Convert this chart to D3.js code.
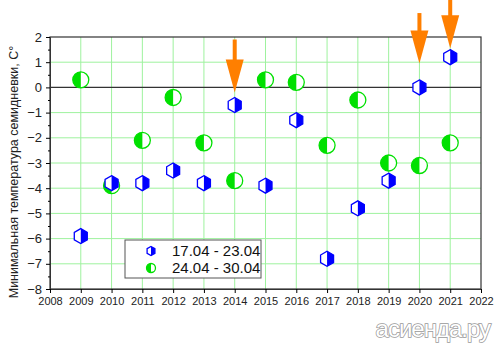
<!DOCTYPE html>
<html>
<head>
<meta charset="utf-8">
<script src="https://cdn.jsdelivr.net/npm/d3@7"></script>
<style>
body { margin: 0; background: #fff; }
svg { font-family: Arial, "Liberation Sans", sans-serif; }
</style>
</head>
<body>
<svg width="500" height="352"></svg>
<script>
var years = [2009, 2010, 2011, 2012, 2013, 2014, 2015, 2016, 2017, 2018, 2019, 2020, 2021];
var week1 = [-5.9, -3.8, -3.8, -3.3, -3.8, -0.7, -3.9, -1.3, -6.8, -4.8, -3.7, 0.0, 1.2];
var week2 = [0.3, -3.9, -2.1, -0.4, -2.2, -3.7, 0.3, 0.2, -2.3, -0.5, -3.0, -3.1, -2.2];
var seriesNames = ["17.04 - 23.04", "24.04 - 30.04"];
var xTicks = d3.range(2008, 2023);
var yTicks = d3.range(-8, 3);
var arrowYears = [2014, 2020, 2021];
var arrowTop = [1.9, 2.95, 3.5];
var arrowTip = [-0.2, 0.95, 1.55];

var svg = d3.select("svg"),
    pLeft = 50, pRight = 481, pTop = 37, pBottom = 289;

var x = d3.scaleLinear().domain([2008, 2022]).range([pLeft, pRight]);
var y = d3.scaleLinear().domain([-8, 2]).range([pBottom, pTop]);

var grid = svg.append("g");
grid.selectAll(".vg").data(xTicks.slice(1, -1)).enter().append("line")
    .attr("x1", d => x(d)).attr("x2", d => x(d))
    .attr("y1", pTop).attr("y2", pBottom)
    .attr("stroke", "#9ef29e").attr("stroke-width", 1);
grid.selectAll(".hg").data(yTicks.slice(1, -1)).enter().append("line")
    .attr("x1", pLeft).attr("x2", pRight)
    .attr("y1", d => y(d)).attr("y2", d => y(d))
    .attr("stroke", d => d === 0 ? "#333" : "#9ef29e")
    .attr("stroke-width", d => d === 0 ? 1.2 : 1);

svg.append("rect")
    .attr("x", pLeft).attr("y", pTop)
    .attr("width", pRight - pLeft).attr("height", pBottom - pTop)
    .attr("fill", "none").attr("stroke", "#333").attr("stroke-width", 1.2);

var yAxis = svg.append("g")
    .attr("transform", "translate(" + pLeft + ",0)")
    .call(d3.axisLeft(y).tickValues(yTicks).tickSize(4).tickPadding(4).tickFormat(d3.format("d")));
yAxis.selectAll(".tick text").attr("font-size", 13).attr("fill", "#222");
svg.append("g")
    .attr("transform", "translate(" + pLeft + ",0)")
    .call(d3.axisLeft(y).tickValues(d3.range(-7.5, 2, 1)).tickSize(2).tickFormat(""))
    .select(".domain").remove();

var xAxis = svg.append("g")
    .attr("transform", "translate(0," + pBottom + ")")
    .call(d3.axisBottom(x).tickValues(xTicks).tickSize(4).tickPadding(4).tickFormat(d3.format("d")));
xAxis.selectAll(".tick text").attr("font-size", 11).attr("fill", "#222");
svg.selectAll(".domain").attr("stroke", "#333");

svg.append("text")
    .attr("transform", "translate(18,172) rotate(-90)")
    .attr("text-anchor", "middle")
    .attr("font-size", 12.5).attr("fill", "#222")
    .text("Минимальная температура семидневки, С°");

// markers
function hexPath(r) {
    var pts = d3.range(6).map(function(i) {
        var a = Math.PI / 3 * i - Math.PI / 2;
        return [r * Math.cos(a), r * Math.sin(a)];
    });
    return "M" + pts.join("L") + "Z";
}
function hexRightHalf(r) {
    var h = r * Math.sqrt(3) / 2;
    return "M0," + (-r) + "L" + h + "," + (-r / 2) + "L" + h + "," + (r / 2) + "L0," + r + "Z";
}
function circleMarker(g, r) {
    g.append("circle").attr("r", r).attr("fill", "#fff").attr("stroke", "#00e000").attr("stroke-width", 1.3);
    g.append("path")
        .attr("d", "M0," + (-r) + "A" + r + "," + r + " 0 0 0 0," + r + "Z")
        .attr("fill", "#00e000");
}
function hexMarker(g, r) {
    g.append("path").attr("d", hexPath(r)).attr("fill", "#fff").attr("stroke", "#0000ff").attr("stroke-width", 1.3);
    g.append("path").attr("d", hexRightHalf(r)).attr("fill", "#0000ff");
}

svg.append("g").selectAll("g").data(years).enter().append("g")
    .attr("transform", (d, i) => "translate(" + x(d) + "," + y(week2[i]) + ")")
    .each(function() { circleMarker(d3.select(this), 8); });

svg.append("g").selectAll("g").data(years).enter().append("g")
    .attr("transform", (d, i) => "translate(" + x(d) + "," + y(week1[i]) + ")")
    .each(function() { hexMarker(d3.select(this), 7.5); });

// arrows
var arrows = svg.append("g").attr("fill", "#ff7f00");
arrowYears.forEach(function(yr, i) {
    var cx = x(yr), y0 = y(arrowTop[i]), y1 = y(arrowTip[i]), headLen = 33, hw = 9;
    arrows.append("rect").attr("x", cx - 2).attr("y", y0).attr("width", 4).attr("height", y1 - headLen - y0 + 1);
    arrows.append("path")
        .attr("d", "M" + (cx - hw) + "," + (y1 - headLen) + "L" + (cx + hw) + "," + (y1 - headLen) + "L" + cx + "," + y1 + "Z");
});

// legend
var lg = svg.append("g").attr("transform", "translate(125,240)");
lg.append("rect").attr("width", 136).attr("height", 38)
    .attr("fill", "#fff").attr("stroke", "#555").attr("stroke-width", 1);
var l1 = lg.append("g").attr("transform", "translate(26,11)");
hexMarker(l1, 4.5);
var l2 = lg.append("g").attr("transform", "translate(26,28)");
circleMarker(l2, 4.5);
lg.selectAll(".lt").data(seriesNames).enter().append("text")
    .attr("x", 47).attr("y", (d, i) => 16 + i * 17)
    .attr("font-size", 15).attr("fill", "#111")
    .text(d => d);

// watermark
svg.append("text")
    .attr("x", 490).attr("y", 337).attr("text-anchor", "end")
    .attr("font-size", 24).attr("font-family", "Arial, sans-serif")
    .attr("fill", "#fff").attr("stroke", "#999").attr("stroke-width", 1.5)
    .attr("paint-order", "stroke")
    .attr("letter-spacing", -1)
    .text("асиенда.ру");
</script>
</body>
</html>
